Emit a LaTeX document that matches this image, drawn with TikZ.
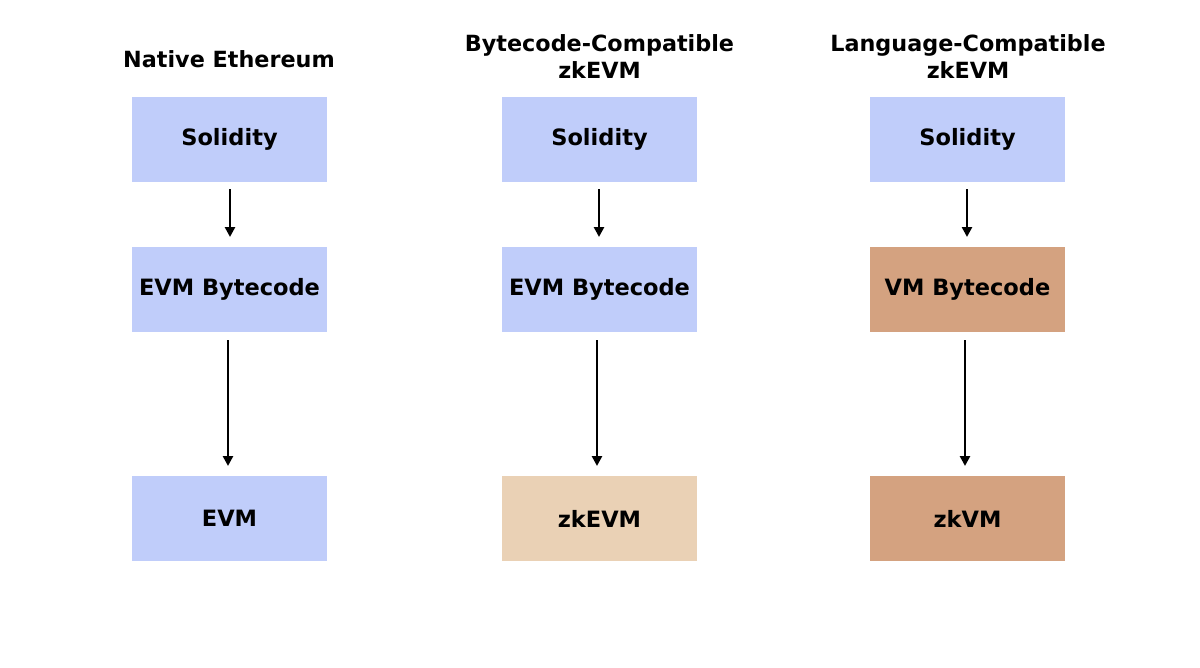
\documentclass[tikz,border=0pt]{standalone}
\usepackage{fontspec}
\setmainfont{DejaVu Sans}
\usetikzlibrary{arrows.meta}
\definecolor{bluebox}{RGB}{192,205,250}
\definecolor{tanbox}{RGB}{234,209,181}
\definecolor{brownbox}{RGB}{212,162,128}
\tikzset{
  box/.style={minimum width=195pt, minimum height=85pt, inner sep=0pt, font=\fontsize{22.5}{26}\selectfont\bfseries},
  ttl/.style={font=\fontsize{22.3}{27}\selectfont\bfseries, align=center, inner sep=0pt},
  arr/.style={line width=2.6pt, -{Triangle[length=10pt,width=10pt]}, shorten >=1pt}
}
\begin{document}
\begin{tikzpicture}[x=1pt,y=-1pt]
\useasboundingbox (0,0) rectangle (1200,667);
% column 1
\node[ttl] (t1) at (229,59.5) {Native Ethereum};
\node[box, fill=bluebox] (a1) at (229.5,139.5) {Solidity};
\node[box, fill=bluebox] (b1) at (229.5,289.5) {EVM Bytecode};
\node[box, fill=bluebox] (c1) at (229.5,518.5) {EVM};
% column 2
\node[ttl] (t2) at (599.5,57) {Bytecode-Compatible\\zkEVM};
\node[box, fill=bluebox] (a2) at (599.5,139.5) {Solidity};
\node[box, fill=bluebox] (b2) at (599.5,289.5) {EVM Bytecode};
\node[box, fill=tanbox] (c2) at (599.5,518.5) {zkEVM};
% column 3
\node[ttl] (t3) at (968,57) {Language-Compatible\\zkEVM};
\node[box, fill=bluebox] (a3) at (967.5,139.5) {Solidity};
\node[box, fill=brownbox] (b3) at (967.5,289.5) {VM Bytecode};
\node[box, fill=brownbox] (c3) at (967.5,518.5) {zkVM};
% arrows
\coordinate (a1s) at (230,189); \coordinate (a1e) at (230,238);
\coordinate (b1s) at (228,340); \coordinate (b1e) at (228,467);
\coordinate (a2s) at (599,189); \coordinate (a2e) at (599,238);
\coordinate (b2s) at (597,340); \coordinate (b2e) at (597,467);
\coordinate (a3s) at (967,189); \coordinate (a3e) at (967,238);
\coordinate (b3s) at (965,340); \coordinate (b3e) at (965,467);
\draw[arr] (a1s) -- (a1e);
\draw[arr] (b1s) -- (b1e);
\draw[arr] (a2s) -- (a2e);
\draw[arr] (b2s) -- (b2e);
\draw[arr] (a3s) -- (a3e);
\draw[arr] (b3s) -- (b3e);
\end{tikzpicture}
\end{document}
